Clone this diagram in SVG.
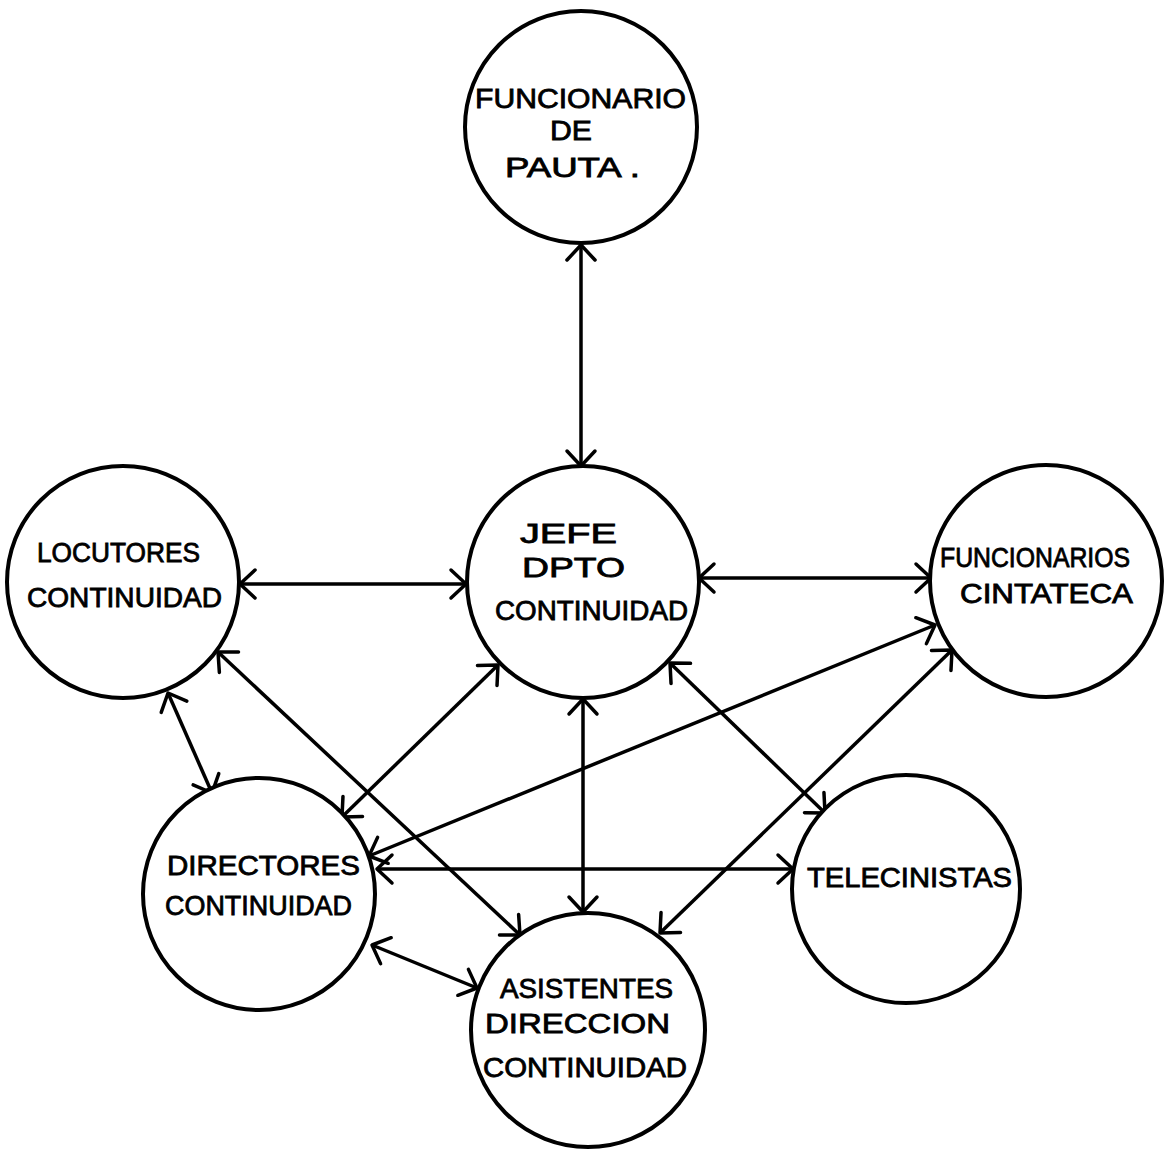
<svg xmlns="http://www.w3.org/2000/svg" width="1168" height="1150" viewBox="0 0 1168 1150">
  <style>
    .node circle { fill: #ffffff; stroke: #000000; stroke-width: 4; }
    .node text { font-family: "Liberation Sans", Arial, sans-serif; font-size: 27px; fill: #000000; stroke: #000000; stroke-width: 0.8; }
    .link { fill: none; stroke: #000000; stroke-width: 3.5; marker-start: url(#tip-start); marker-end: url(#tip-end); }
  </style>
  <defs>
    <!-- open V arrowheads, tip at the line end -->
    <marker id="tip-end" markerUnits="userSpaceOnUse" viewBox="-20 -20 24 40" refX="0" refY="0" markerWidth="24" markerHeight="40" orient="auto" overflow="visible">
      <path d="M -15 -14 L 0 0 L -15 14" fill="none" stroke="#000000" stroke-width="3.5" stroke-linecap="round" stroke-linejoin="round"/>
    </marker>
    <marker id="tip-start" markerUnits="userSpaceOnUse" viewBox="-20 -20 24 40" refX="0" refY="0" markerWidth="24" markerHeight="40" orient="auto-start-reverse" overflow="visible">
      <path d="M -15 -14 L 0 0 L -15 14" fill="none" stroke="#000000" stroke-width="3.5" stroke-linecap="round" stroke-linejoin="round"/>
    </marker>
  </defs>

  <rect width="1168" height="1150" fill="#ffffff"/>

  <g id="connectors">
    <line class="link" x1="581" y1="245" x2="581" y2="466"/>
    <line class="link" x1="240" y1="584" x2="466" y2="584"/>
    <line class="link" x1="699" y1="578" x2="931" y2="578"/>
    <line class="link" x1="168" y1="693" x2="212" y2="793"/>
    <line class="link" x1="218" y1="652" x2="520" y2="935"/>
    <line class="link" x1="498" y1="665" x2="342" y2="817"/>
    <line class="link" x1="935" y1="625" x2="369" y2="856"/>
    <line class="link" x1="377" y1="869" x2="793" y2="869"/>
    <line class="link" x1="372" y1="945" x2="477" y2="988"/>
    <line class="link" x1="583" y1="699" x2="583" y2="912"/>
    <line class="link" x1="670" y1="663" x2="825" y2="813"/>
    <line class="link" x1="952" y1="650" x2="660" y2="933"/>
  </g>

  <g id="funcionario-pauta" class="node">
    <circle cx="581" cy="127" r="116"/>
    <text x="475" y="108" textLength="211" lengthAdjust="spacingAndGlyphs">FUNCIONARIO</text>
    <text x="550" y="140" textLength="42" lengthAdjust="spacingAndGlyphs">DE</text>
    <text x="505" y="177" textLength="135" lengthAdjust="spacingAndGlyphs">PAUTA .</text>
  </g>

  <g id="jefe-dpto" class="node">
    <circle cx="583" cy="582" r="116"/>
    <text x="520" y="543" textLength="97" lengthAdjust="spacingAndGlyphs">JEFE</text>
    <text x="522" y="577" textLength="103" lengthAdjust="spacingAndGlyphs">DPTO</text>
    <text x="495" y="620" textLength="193" lengthAdjust="spacingAndGlyphs">CONTINUIDAD</text>
  </g>

  <g id="locutores" class="node">
    <circle cx="123" cy="582" r="116"/>
    <text x="37" y="562" textLength="163" lengthAdjust="spacingAndGlyphs">LOCUTORES</text>
    <text x="27" y="607" textLength="195" lengthAdjust="spacingAndGlyphs">CONTINUIDAD</text>
  </g>

  <g id="cintateca" class="node">
    <circle cx="1046" cy="581" r="116"/>
    <text x="940" y="567" textLength="190" lengthAdjust="spacingAndGlyphs">FUNCIONARIOS</text>
    <text x="960" y="603" textLength="173" lengthAdjust="spacingAndGlyphs">CINTATECA</text>
  </g>

  <g id="directores" class="node">
    <circle cx="259" cy="894" r="116"/>
    <text x="167" y="875" textLength="193" lengthAdjust="spacingAndGlyphs">DIRECTORES</text>
    <text x="165" y="915" textLength="187" lengthAdjust="spacingAndGlyphs">CONTINUIDAD</text>
  </g>

  <g id="telecinistas" class="node">
    <circle cx="906" cy="889" r="114"/>
    <text x="807" y="887" textLength="205" lengthAdjust="spacingAndGlyphs">TELECINISTAS</text>
  </g>

  <g id="asistentes" class="node">
    <circle cx="588" cy="1030" r="117"/>
    <text x="500" y="998" textLength="173" lengthAdjust="spacingAndGlyphs">ASISTENTES</text>
    <text x="485" y="1033" textLength="185" lengthAdjust="spacingAndGlyphs">DIRECCION</text>
    <text x="483" y="1077" textLength="204" lengthAdjust="spacingAndGlyphs">CONTINUIDAD</text>
  </g>
</svg>
